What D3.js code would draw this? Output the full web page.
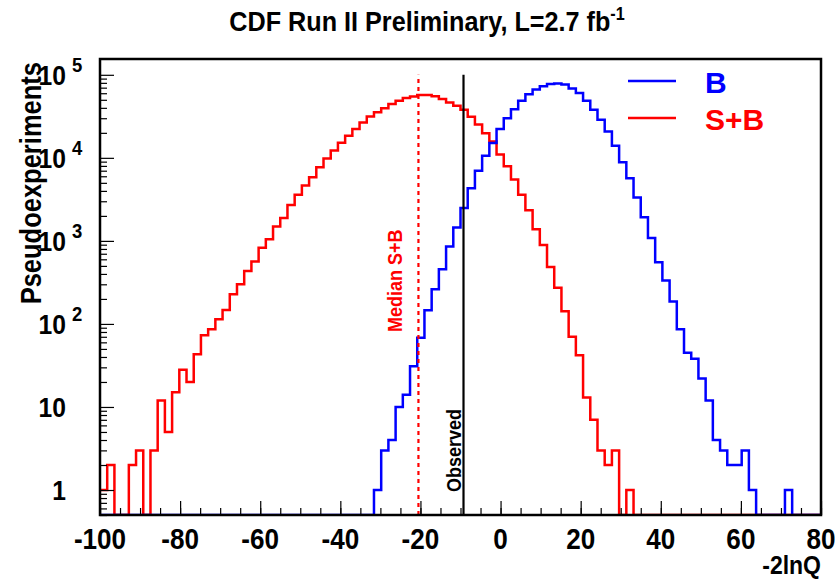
<!DOCTYPE html>
<html lang="en">
<head>
<meta charset="UTF-8" />
<title>CDF Run II Preliminary</title>
<script src="https://cdnjs.cloudflare.com/ajax/libs/d3/7.8.5/d3.min.js"></script>
<style>
  body { margin: 0; background: #fff; }
  svg text { font-family: "Liberation Sans", Arial, Helvetica, sans-serif; font-weight: bold; }
</style>
</head>
<body>
<div id="chart"></div>
<script>
// histogram binning: 100 bins from -100 to 80
var xLow = -100, xHigh = 80, nBins = 100;

// S+B pseudoexperiments per bin (red)
var sbCounts = [
  1, 2, 0, 0, 2, 3, 0, 3, 12, 5,
  15, 28, 20, 43, 73, 86, 114, 147, 228, 300,
  435, 564, 826, 1050, 1490, 1880, 2700, 3600, 4650, 5850,
  7700, 9800, 12300, 15200, 18500, 22200, 26600, 31500, 35500, 39500,
  44400, 48600, 52400, 54800, 57200, 57200, 55000, 51000, 46400, 42300,
  37900, 31300, 25200, 19800, 15700, 11000, 7900, 5500, 3600, 2340,
  1380, 890, 485, 273, 142, 70, 42, 13, 7, 3,
  2, 3, 0, 1, 0, 0, 0, 0, 0, 0,
  0, 0, 0, 0, 0, 0, 0, 0, 0, 0,
  0, 0, 0, 0, 0, 0, 0, 0, 0, 0
];

// B-only pseudoexperiments per bin (blue)
var bCounts = [
  0, 0, 0, 0, 0, 0, 0, 0, 0, 0,
  0, 0, 0, 0, 0, 0, 0, 0, 0, 0,
  0, 0, 0, 0, 0, 0, 0, 0, 0, 0,
  0, 0, 0, 0, 0, 0, 0, 0, 1, 3,
  4, 10, 14, 31, 68, 146, 262, 455, 855, 1450,
  2490, 4300, 6970, 10600, 15100, 22200, 30000, 38600, 48600, 58500,
  66500, 73000, 77500, 78500, 76500, 68500, 60200, 48600, 38000, 28700,
  20700, 13950, 8870, 5690, 3330, 1930, 1080, 554, 333, 186,
  86, 45, 38, 22, 12, 4, 3, 2, 2, 3,
  1, 0, 0, 0, 0, 1, 0, 0, 0, 0
];

var medianSB = -20.5;
var observed = -9.25;

var xTicks = [-100, -80, -60, -40, -20, 0, 20, 40, 60, 80];
var yTicks = [1, 10, 100, 1000, 10000, 100000];
var yLabels = [["1", ""], ["10", ""], ["10", "2"], ["10", "3"], ["10", "4"], ["10", "5"]];

var width = 835, height = 579;
var margin = { top: 59, right: 14, bottom: 64, left: 100 };
var plotW = width - margin.left - margin.right;
var plotH = height - margin.top - margin.bottom;

var svg = d3.select("#chart").append("svg")
  .attr("width", width)
  .attr("height", height);

var xScale = d3.scaleLinear().domain([xLow, xHigh]).range([margin.left, margin.left + plotW]);
var yScale = d3.scaleLog().domain([0.5, 1.55e5]).range([margin.top + plotH, margin.top]);

var binW = (xHigh - xLow) / nBins;

// ROOT's helvetica looks narrow and tall, so squeeze the text a bit
function label(x, y, str, size, opts) {
  opts = opts || {};
  var g = svg.append("g")
    .attr("transform", "translate(" + x + "," + y + ")" +
      (opts.rot ? " rotate(" + opts.rot + ")" : "") +
      " scale(" + (opts.sx || 1) + ",1)");
  var t = g.append("text")
    .attr("text-anchor", opts.anchor || "start")
    .attr("fill", opts.color || "#000")
    .style("font-size", size + "px")
    .text(str);
  return t;
}

svg.append("clipPath").attr("id", "frameClip")
  .append("rect")
  .attr("x", margin.left).attr("y", margin.top)
  .attr("width", plotW).attr("height", plotH);

// step outline like ROOT, empty bins sit on the frame bottom
function histPoints(counts) {
  var pts = [];
  counts.forEach(function(c, i) {
    var v = c > 0 ? c : 0.5;
    pts.push([xLow + i * binW, v]);
    pts.push([xLow + (i + 1) * binW, v]);
  });
  return pts;
}

var line = d3.line()
  .x(function(d) { return xScale(d[0]); })
  .y(function(d) { return yScale(d[1]); });

var hg = svg.append("g").attr("clip-path", "url(#frameClip)");

hg.append("path")
  .datum(histPoints(sbCounts))
  .attr("d", line)
  .attr("fill", "none")
  .attr("stroke", "#ff0000")
  .attr("stroke-width", 2.5);

hg.append("path")
  .datum(histPoints(bCounts))
  .attr("d", line)
  .attr("fill", "none")
  .attr("stroke", "#0000ff")
  .attr("stroke-width", 2.5);

// median S+B and observed lines
svg.append("line")
  .attr("x1", xScale(medianSB)).attr("x2", xScale(medianSB))
  .attr("y1", yScale(0.5)).attr("y2", yScale(1e5))
  .attr("stroke", "#ff0000").attr("stroke-width", 2.2)
  .attr("stroke-dasharray", "4,4");

svg.append("line")
  .attr("x1", xScale(observed)).attr("x2", xScale(observed))
  .attr("y1", yScale(0.5)).attr("y2", yScale(1e5))
  .attr("stroke", "#000").attr("stroke-width", 2.2);

label(xScale(medianSB) - 16, 332, "Median S+B", 20, { rot: -90, sx: 0.9, color: "#ff0000" });
label(xScale(observed) - 3, 492, "Observed", 20, { rot: -90, sx: 0.9 });

// x axis ticks (inward)
var minorX = d3.range(xLow, xHigh + 0.1, 5);
svg.append("g")
  .attr("transform", "translate(0," + (margin.top + plotH) + ")")
  .call(d3.axisBottom(xScale).tickValues(minorX).tickSize(-7).tickFormat(""))
  .call(function(g) { g.select(".domain").remove(); g.selectAll("line").attr("stroke-width", 1.2); });
svg.append("g")
  .attr("transform", "translate(0," + (margin.top + plotH) + ")")
  .call(d3.axisBottom(xScale).tickValues(xTicks).tickSize(-14).tickFormat(""))
  .call(function(g) { g.select(".domain").remove(); g.selectAll("line").attr("stroke-width", 1.2); });

xTicks.forEach(function(d) {
  label(xScale(d), 549, String(d), 29, { anchor: "middle", sx: 0.9 });
});

// y axis ticks (inward)
var minorY = [];
[0.1, 1, 10, 100, 1000, 10000, 100000].forEach(function(dec) {
  for (var k = 2; k <= 9; k++) {
    var v = dec * k;
    if (v >= 0.5 && v <= 1.55e5) minorY.push(v);
  }
});
svg.append("g")
  .attr("transform", "translate(" + margin.left + ",0)")
  .call(d3.axisLeft(yScale).tickValues(minorY).tickSize(-7).tickFormat(""))
  .call(function(g) { g.select(".domain").remove(); g.selectAll("line").attr("stroke-width", 1.2); });
svg.append("g")
  .attr("transform", "translate(" + margin.left + ",0)")
  .call(d3.axisLeft(yScale).tickValues(yTicks).tickSize(-14).tickFormat(""))
  .call(function(g) { g.select(".domain").remove(); g.selectAll("line").attr("stroke-width", 1.2); });

yTicks.forEach(function(d, i) {
  label(66, yScale(d) + 10, yLabels[i][0], 28, { anchor: "end", sx: 0.88 });
  if (yLabels[i][1]) label(72, yScale(d) - 3, yLabels[i][1], 21, { sx: 0.88 });
});

// frame
svg.append("rect")
  .attr("x", margin.left).attr("y", margin.top)
  .attr("width", plotW).attr("height", plotH)
  .attr("fill", "none")
  .attr("stroke", "#000")
  .attr("stroke-width", 2.5);

// titles
var title = label(427, 31, "CDF Run II Preliminary, L=2.7 fb", 28, { anchor: "middle", sx: 0.9 });
title.append("tspan").attr("dy", -11).style("font-size", "18px").text("-1");

label(margin.left + plotW, 574, "-2lnQ", 25, { anchor: "end", sx: 0.92 });
label(41, margin.top + 3, "Pseudoexperiments", 29, { rot: -90, anchor: "end", sx: 0.88 });

// legend
var legend = [
  { name: "B", color: "#0000ff", y: 81 },
  { name: "S+B", color: "#ff0000", y: 118 }
];
var lg = svg.selectAll(".leg").data(legend).enter().append("g").attr("class", "leg");
lg.append("line")
  .attr("x1", 628).attr("x2", 676)
  .attr("y1", function(d) { return d.y; }).attr("y2", function(d) { return d.y; })
  .attr("stroke", function(d) { return d.color; })
  .attr("stroke-width", 2.5);
legend.forEach(function(d) {
  label(705, d.y + 12, d.name, 30, { color: d.color });
});
</script>
</body>
</html>
